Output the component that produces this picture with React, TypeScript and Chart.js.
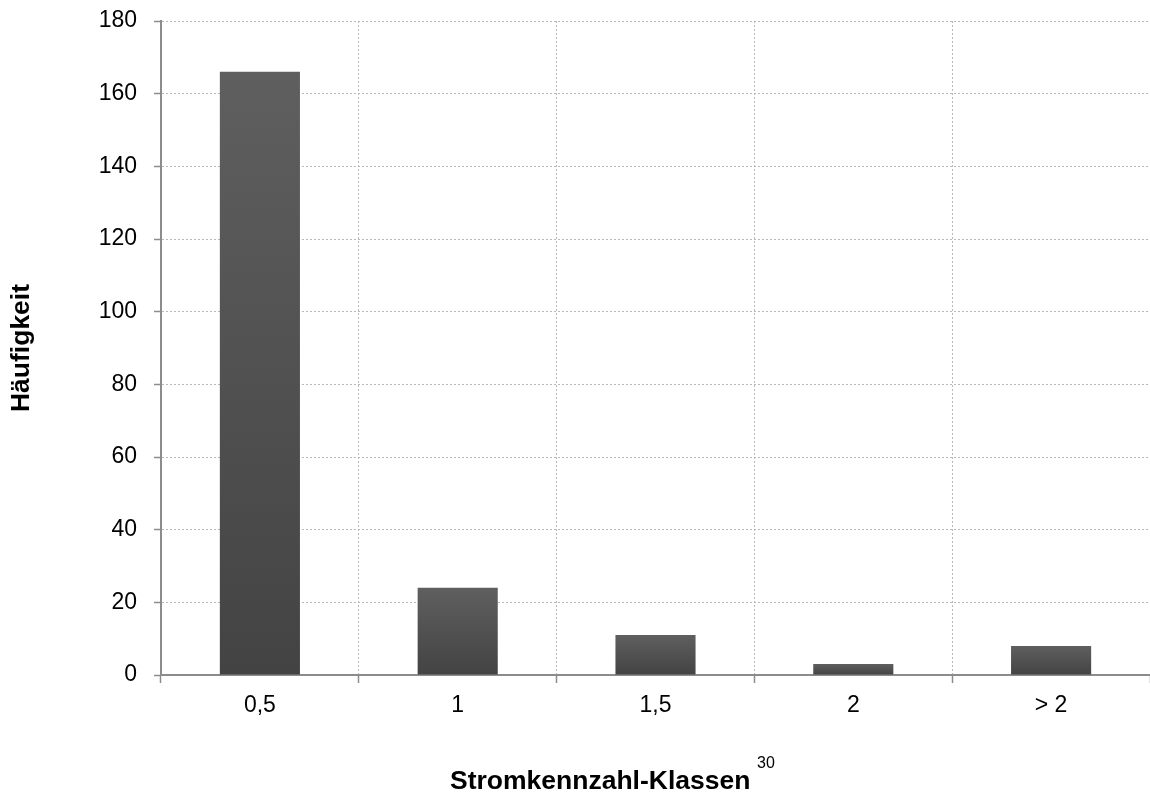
import React, { useEffect, useRef } from "react";
import { Chart, registerables } from "chart.js";

Chart.register(...registerables);

const categories: string[] = ["0,5", "1", "1,5", "2", "> 2"];
const frequencies: number[] = [166, 24, 11, 3, 8];
const yTicks: number[] = [0, 20, 40, 60, 80, 100, 120, 140, 160, 180];
const xTitle = "Stromkennzahl-Klassen";
const xTitleNote = "30";
const yTitle = "Häufigkeit";

const FONT = "Arial, 'Liberation Sans', sans-serif";

const titlePlugin = {
  id: "titles",
  afterDraw(chart: any) {
    const ctx = chart.ctx;
    const area = chart.chartArea;
    ctx.save();
    ctx.fillStyle = "#000";
    ctx.font = `bold 26.5px ${FONT}`;
    ctx.textAlign = "left";
    ctx.textBaseline = "middle";
    ctx.fillText(xTitle, 450, 782);
    ctx.font = `16px ${FONT}`;
    ctx.fillText(xTitleNote, 757, 764);
    ctx.translate(22, (area.top + area.bottom) / 2);
    ctx.rotate(-Math.PI / 2);
    ctx.font = `bold 26.5px ${FONT}`;
    ctx.textAlign = "center";
    ctx.fillText(yTitle, 0, 0);
    ctx.restore();
  },
};

export default function App() {
  const ref = useRef<HTMLCanvasElement | null>(null);
  useEffect(() => {
    if (!ref.current) return;
    const chart = new Chart(ref.current, {
      type: "bar",
      data: {
        labels: categories,
        datasets: [
          {
            data: frequencies,
            backgroundColor: (c: any) => {
              const ch = c.chart;
              const ys = ch.scales && ch.scales.y;
              if (!ys || c.raw === undefined) return "#555";
              const top = ys.getPixelForValue(c.raw);
              const base = ys.getPixelForValue(0);
              if (!isFinite(top) || !isFinite(base) || top === base) return "#555";
              const g = ch.ctx.createLinearGradient(0, top, 0, base);
              g.addColorStop(0, "#5f5f5f");
              g.addColorStop(1, "#434343");
              return g;
            },
            borderWidth: 0,
            categoryPercentage: 1,
            barPercentage: 0.405,
          },
        ],
      },
      options: {
        animation: false,
        responsive: false,
        layout: { padding: { top: 21, right: 0, left: 0, bottom: 0 } },
        plugins: { legend: { display: false }, tooltip: { enabled: false } },
        scales: {
          x: {
            offset: true,
            grid: {
              offset: true,
              color: "#b8b8b8",
              tickBorderDash: [],
              tickColor: "#8c8c8c",
              tickLength: 8,
              tickWidth: 1.5,
              lineWidth: 1,
            },
            border: { display: true, color: "#8c8c8c", width: 2, dash: [2, 2] },
            ticks: { color: "#000", font: { size: 23, family: FONT }, padding: 9 },
            afterFit: (s: any) => {
              s.height = 126;
              s.paddingLeft = 0;
              s.paddingRight = 0;
            },
          },
          y: {
            min: 0,
            max: 180,
            afterBuildTicks: (s: any) => { s.ticks = yTicks.map((v) => ({ value: v })); },
            grid: {
              color: (c: any) => (c.tick && c.tick.value === 0 ? "rgba(0,0,0,0)" : "#b8b8b8"),
              tickBorderDash: [],
              tickColor: "#8c8c8c",
              tickLength: 7,
              tickWidth: 1.5,
              lineWidth: 1,
            },
            border: { display: true, color: "#8c8c8c", width: 2, dash: [2, 2] },
            ticks: { color: "#000", font: { size: 23, family: FONT }, padding: 17 },
            afterFit: (s: any) => {
              s.width = 161;
              s.paddingTop = 0;
              s.paddingBottom = 0;
            },
          },
        },
      },
      plugins: [titlePlugin],
    });
    return () => chart.destroy();
  }, []);
  return (
    <div style={{ position: "fixed", left: 0, top: 0, width: 1150, height: 801, background: "#fff" }}>
      <canvas ref={ref} width={1150} height={801} style={{ display: "block" }} />
    </div>
  );
}
